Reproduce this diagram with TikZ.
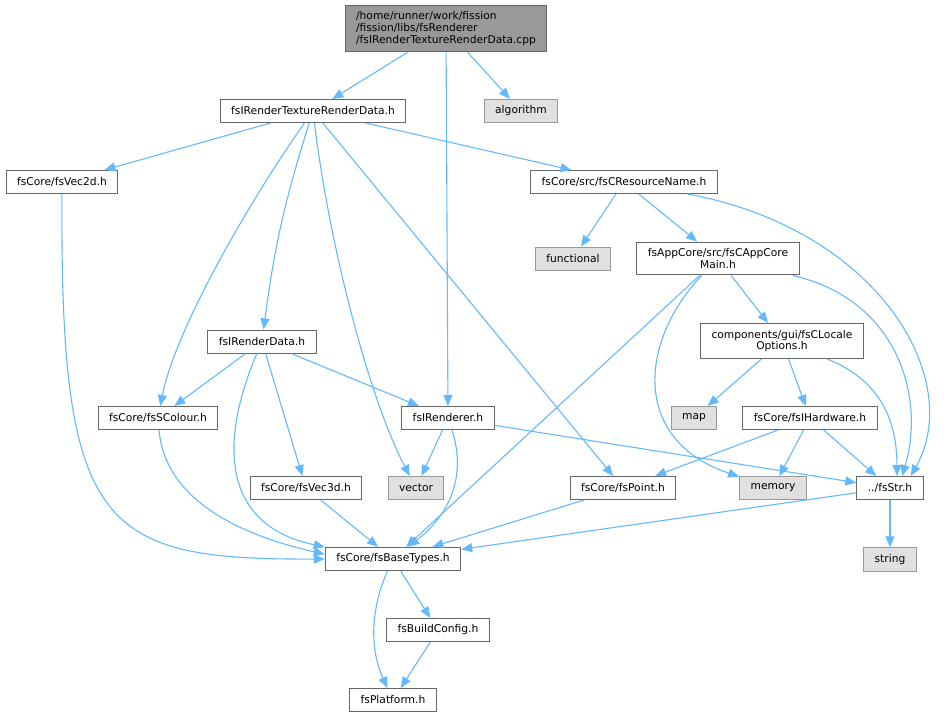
\documentclass[tikz,border=0pt]{standalone}
\usepackage{fontspec}
\setmainfont{DejaVu Sans}
\usetikzlibrary{arrows.meta}
\definecolor{edgeblue}{HTML}{63B8FF}
\tikzset{
	file/.style={draw=black!60, fill=white, line width=1pt, inner xsep=11pt, inner ysep=6.5pt, minimum height=23pt, align=center, font=\fontsize{10.7}{11.7}\selectfont},
	extfile/.style={file, draw=black!40, fill=black!12},
	topfile/.style={file, fill=black!40, align=left},
	dep/.style={draw=edgeblue, line width=1.1pt, -{Triangle[length=11pt,width=9pt]}}
}

\begin{document}
\begin{tikzpicture}[x=1pt, y=-1pt]
			%%%%% START %%%%%
			\useasboundingbox (0,0) rectangle (946,717);
			
			\node[topfile] (main) at (446,28.5) {/home/runner/work/fission\\/fission/libs/fsRenderer\\/fsIRenderTextureRenderData.cpp};
			\node[file] (trd) at (313,111) {fsIRenderTextureRenderData.h};
			\node[extfile] (alg) at (521,111) {algorithm};
			
			\node[file] (vectwod) at (62,182) {fsCore/fsVec2d.h};
			\node[file] (resname) at (624,182) {fsCore/src/fsCResourceName.h};
			\node[extfile] (functional) at (573,258.5) {functional};
			\node[file] (appmain) at (718,258.5) {fsAppCore/src/fsCAppCore\\Main.h};
			\node[file] (locale) at (782,341) {components/gui/fsCLocale\\Options.h};
			\node[file] (rdata) at (262,341.5) {fsIRenderData.h};
			
			\node[file] (scol) at (158,418) {fsCore/fsSColour.h};
			\node[file] (renderer) at (448,418) {fsIRenderer.h};
			\node[extfile] (maps) at (694,418) {map};
			\node[file] (hardware) at (810,418) {fsCore/fsIHardware.h};
			
			\node[file] (vecthree) at (306,488) {fsCore/fsVec3d.h};
			\node[extfile] (vector) at (416,488) {vector};
			\node[file] (point) at (623,488) {fsCore/fsPoint.h};
			\node[extfile] (memory) at (773,488) {memory};
			\node[file] (str) at (890,488) {../fsStr.h};
			
			\node[file] (bt) at (393,559) {fsCore/fsBaseTypes.h};
			\node[extfile] (string) at (890,559.5) {string};
			\node[file] (buildcfg) at (438,630) {fsBuildConfig.h};
			\node[file] (platform) at (393,700) {fsPlatform.h};
			
			% top file
			\draw[dep] (main) -- (trd);
			\draw[dep] (main) -- (renderer);
			\draw[dep] (main) -- (alg);
			
			% fsIRenderTextureRenderData.h
			\draw[dep] (trd) -- (vectwod);
			\draw[dep] (trd) -- (resname);
			\draw[dep] (trd) .. controls (250,200) and (175,330) .. (scol);
			\draw[dep] (trd) to[bend right=5] (rdata);
			\draw[dep] (trd) .. controls (330,250) and (370,400) .. (vector);
			\draw[dep] (trd) -- (point);
			
			\draw[dep] (vectwod) .. controls (60,530) and (100,560) .. (bt.west);
			
			% fsCResourceName.h
			\draw[dep] (resname) -- (functional);
			\draw[dep] (resname) -- (appmain);
			\draw[dep] (resname) .. controls (880,230) and (965,380) .. (str.30);
			
			% fsCAppCoreMain.h
			\draw[dep] (appmain) -- (bt);
			\draw[dep] (appmain) .. controls (640,340) and (630,440) .. (memory);
			\draw[dep] (appmain) -- (locale);
			\draw[dep] (appmain) .. controls (900,300) and (925,400) .. (str.45);
			
			\draw[dep] (locale) -- (maps);
			\draw[dep] (locale) -- (hardware);
			\draw[dep] (locale) .. controls (880,380) and (897,420) .. (str.60);
			
			% fsIRenderData.h
			\draw[dep] (rdata) -- (scol);
			\draw[dep] (rdata) .. controls (220,440) and (220,525) .. (bt.170);
			\draw[dep] (rdata) -- (vecthree);
			\draw[dep] (rdata) -- (renderer);
			
			\draw[dep] (scol) .. controls (165,500) and (240,535) .. (bt.176);
			
			% fsIRenderer.h
			\draw[dep] (renderer) -- (vector);
			\draw[dep] (renderer) .. controls (465,470) and (455,510) .. (bt);
			\draw[dep] (renderer) -- (str);
			
			\draw[dep] (hardware) -- (point);
			\draw[dep] (hardware) -- (memory);
			\draw[dep] (hardware) -- (str);
			
			\draw[dep] (vecthree) -- (bt);
			\draw[dep] (point) -- (bt);
			\draw[dep] (str) -- (bt);
			\draw[dep] (str) -- (string);
			
			% fsBaseTypes.h
			\draw[dep] (bt) -- (buildcfg);
			\draw[dep] (bt) .. controls (370,610) and (370,650) .. (platform);
			\draw[dep] (buildcfg) -- (platform);
			
			%%%%% END %%%%%
\end{tikzpicture}
\end{document}
